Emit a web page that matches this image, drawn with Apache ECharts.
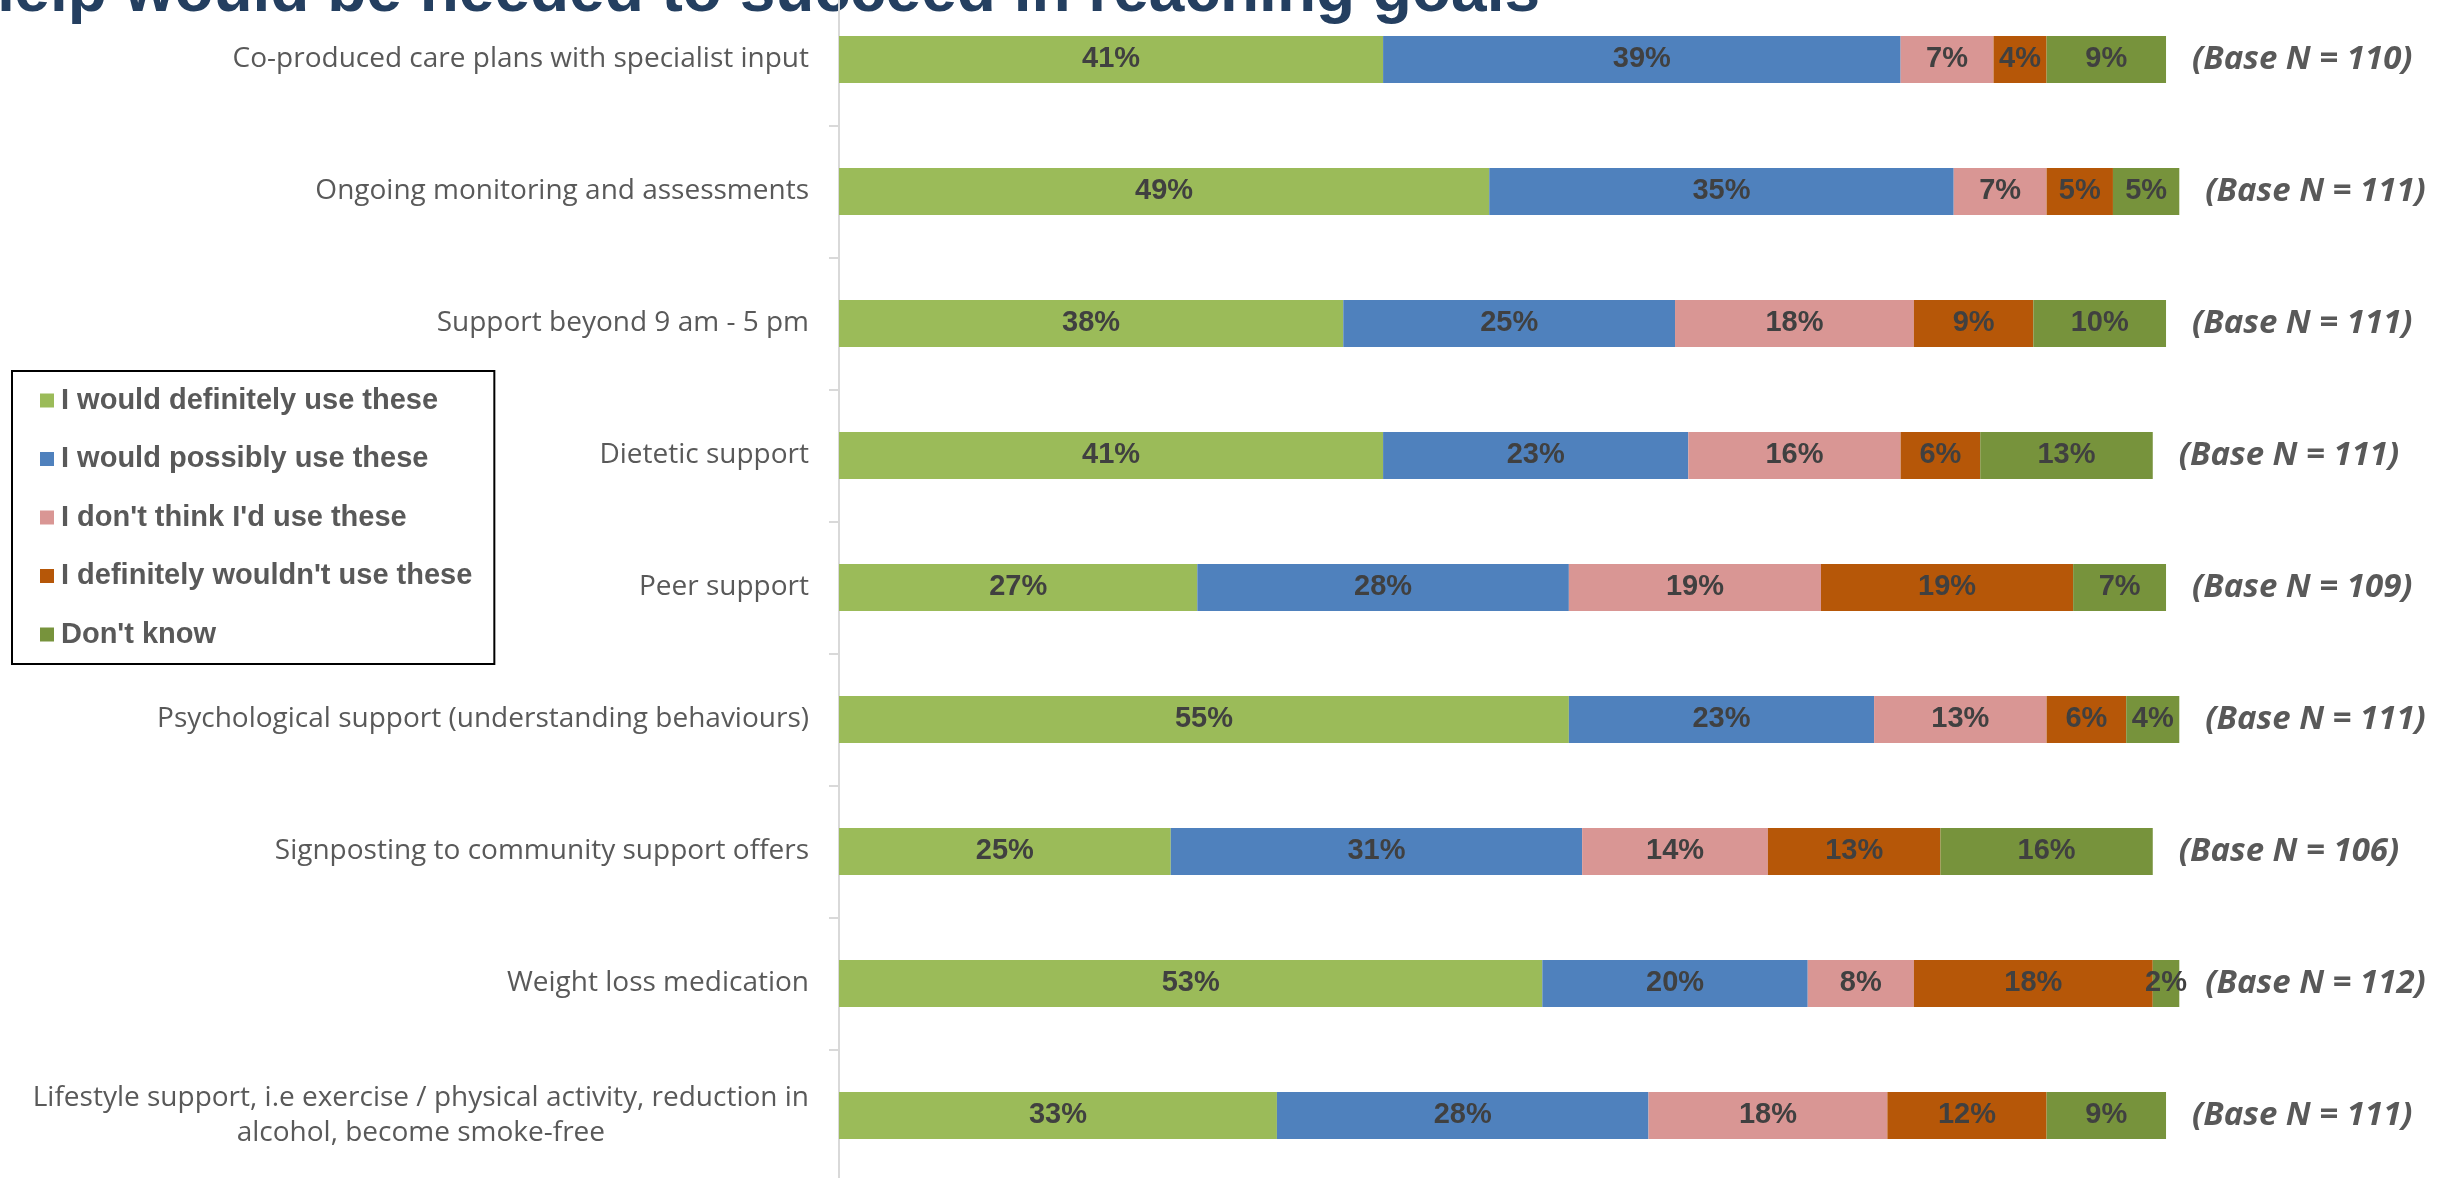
<!DOCTYPE html>
<html>
<head>
<meta charset="utf-8">
<script src="https://cdn.jsdelivr.net/npm/echarts@6/dist/echarts.min.js"></script>
<style>
  html, body { margin: 0; padding: 0; background: #ffffff; }
  #chart { width: 2450px; height: 1178px; }
</style>
</head>
<body>
<div id="chart"></div>
<script>
// Support options, top to bottom
const categories = [
  'Co-produced care plans with specialist input',
  'Ongoing monitoring and assessments',
  'Support beyond 9 am - 5 pm',
  'Dietetic support',
  'Peer support',
  'Psychological support (understanding behaviours)',
  'Signposting to community support offers',
  'Weight loss medication',
  'Lifestyle support, i.e exercise / physical activity, reduction in\nalcohol, become smoke-free'
];

// Response shares (%) per option
const definitelyUse = [41, 49, 38, 41, 27, 55, 25, 53, 33];
const possiblyUse   = [39, 35, 25, 23, 28, 23, 31, 20, 28];
const wouldntThink  = [7, 7, 18, 16, 19, 13, 14, 8, 18];
const definitelyNot = [4, 5, 9, 6, 19, 6, 13, 18, 12];
const dontKnow      = [9, 5, 10, 13, 7, 4, 16, 2, 9];

// Respondents answering each option
const baseN = [110, 111, 111, 111, 109, 111, 106, 112, 111];

const responseNames = [
  'I would definitely use these',
  'I would possibly use these',
  "I don't think I'd use these",
  "I definitely wouldn't use these",
  "Don't know"
];
const responseValues = [definitelyUse, possiblyUse, wouldntThink, definitelyNot, dontKnow];
const responseColors = ['#9BBB59', '#4F81BD', '#D99694', '#B65708', '#77933C'];

const titleText = 'What help would be needed to succeed in reaching goals';

const chart = echarts.init(document.getElementById('chart'), null, { renderer: 'canvas' });

const barSeries = responseNames.map((name, i) => ({
  name: name,
  type: 'bar',
  stack: 'total',
  barWidth: 47,
  data: responseValues[i],
  itemStyle: { color: responseColors[i] },
  label: {
    show: true,
    position: 'inside',
    formatter: '{c}%',
    fontFamily: 'Liberation Sans',
    fontWeight: 'bold',
    fontSize: 29,
    color: '#404040'
  },
  emphasis: { disabled: true }
}));

// Zero-width segment at the end of each stack that carries the base size label
barSeries.push({
  name: 'Base N',
  type: 'bar',
  stack: 'total',
  barWidth: 47,
  data: baseN.map(() => 0),
  itemStyle: { color: 'transparent' },
  label: {
    show: true,
    position: 'right',
    distance: 26,
    formatter: (p) => '(Base N = ' + baseN[p.dataIndex] + ')',
    fontFamily: 'Open Sans',
    fontWeight: 'bold',
    fontStyle: 'italic',
    fontSize: 33,
    color: '#595959'
  },
  emphasis: { disabled: true },
  silent: true
});

chart.setOption({
  animation: false,
  backgroundColor: '#ffffff',
  graphic: [{
    type: 'text',
    x: 1540,
    y: 25,
    silent: true,
    style: {
      text: titleText,
      fill: '#243F60',
      font: 'bold 64px "Liberation Sans", Arial, sans-serif',
      align: 'right',
      verticalAlign: 'bottom'
    }
  }],
  legend: {
    data: responseNames,
    orient: 'vertical',
    left: 12,
    top: 371,
    icon: 'rect',
    itemWidth: 14,
    itemHeight: 14,
    itemGap: 29.5,
    selectedMode: false,
    padding: [15, 22, 15, 28],
    borderColor: '#000000',
    borderWidth: 2,
    textStyle: {
      fontFamily: 'Liberation Sans',
      fontWeight: 'bold',
      fontSize: 29,
      lineHeight: 29,
      color: '#595959',
      padding: [0, 0, 0, 2]
    }
  },
  grid: {
    left: 839,
    top: -6.6,
    width: 1340.3,
    height: 1188,
    containLabel: false,
    outerBoundsMode: 'none'
  },
  xAxis: {
    type: 'value',
    min: 0,
    max: 101,
    show: false
  },
  yAxis: {
    type: 'category',
    inverse: true,
    data: categories,
    axisLine: { show: true, lineStyle: { color: '#D9D9D9', width: 2 } },
    axisTick: { show: true, length: 10, lineStyle: { color: '#D9D9D9', width: 2 } },
    splitLine: { show: false },
    axisLabel: {
      margin: 30,
      formatter: (v) => v.split('\n').map(line => '{c|' + line + '}').join('\n'),
      rich: {
        c: {
          align: 'center',
          fontFamily: 'Open Sans',
          fontSize: 28,
          lineHeight: 35,
          color: '#595959'
        }
      }
    }
  },
  series: barSeries
});
</script>
</body>
</html>
